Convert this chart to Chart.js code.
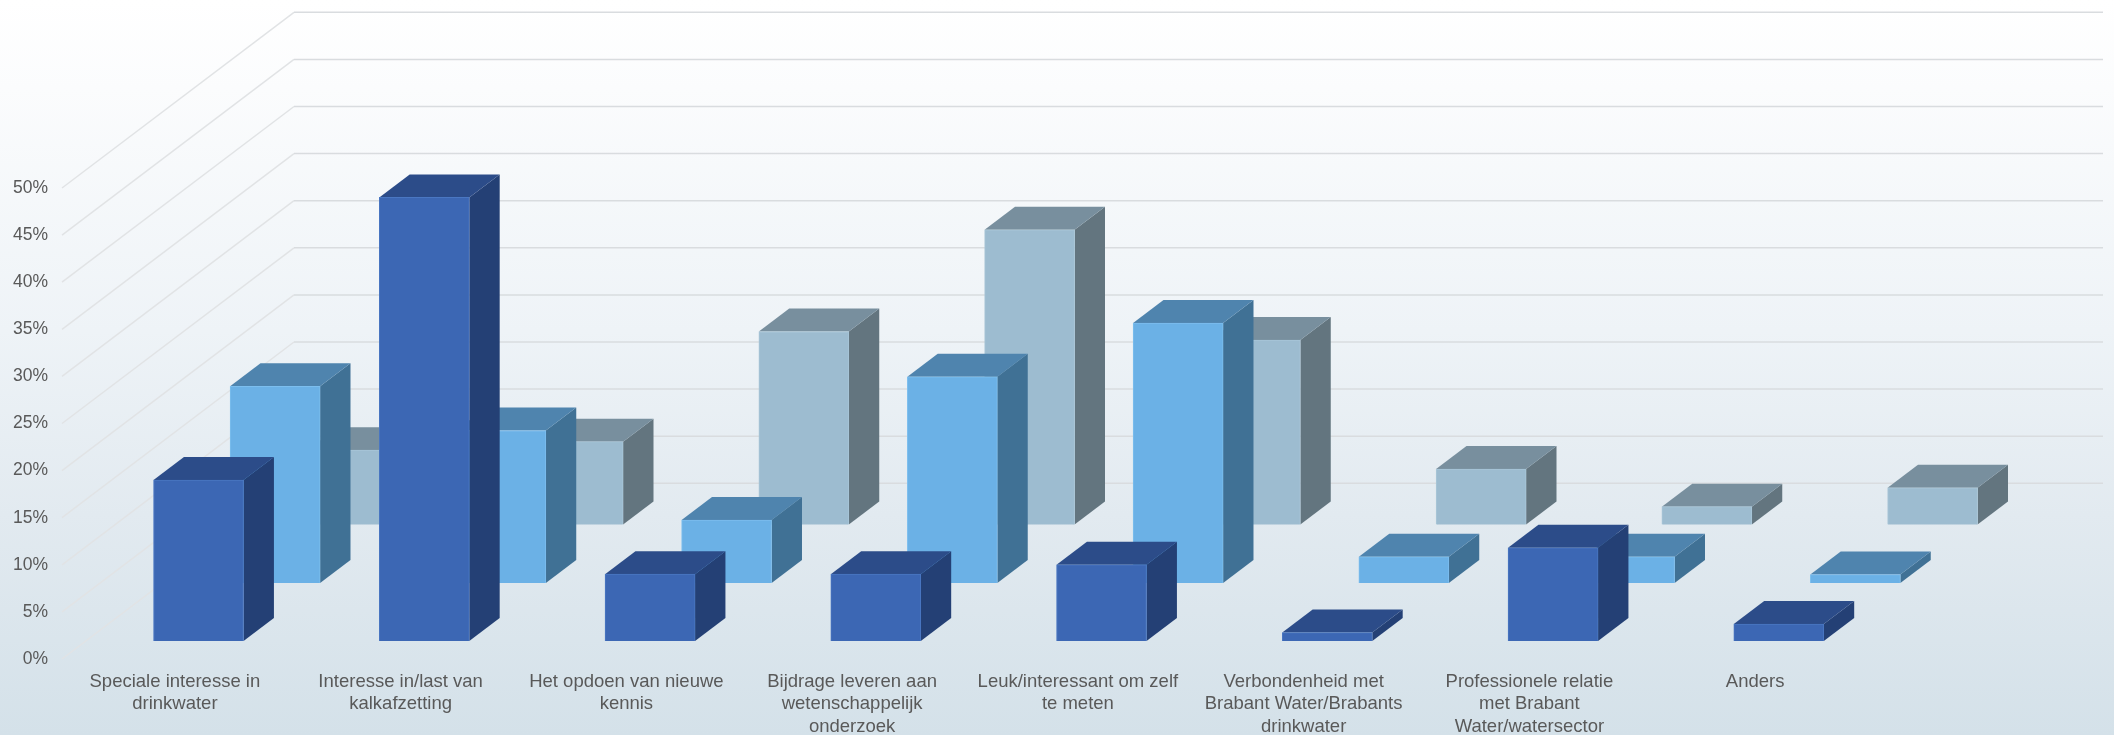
<!DOCTYPE html>
<html>
<head>
<meta charset="utf-8">
<title>Redenen voor deelname</title>
<script src="https://cdn.jsdelivr.net/npm/chart.js@4"></script>
<style>
	html, body { margin: 0; padding: 0; }
	body { width: 2114px; height: 735px; overflow: hidden; background: linear-gradient(#ffffff 0%, #fbfcfd 12%, #eef3f7 45%, #e2eaf0 70%, #d4e1e9 100%); }
	canvas { display: block; }
</style>
</head>
<body>
<canvas id="bar-3d" width="2114" height="735"></canvas>
<script>
const categories = [
	["Speciale interesse in", "drinkwater"],
	["Interesse in/last van", "kalkafzetting"],
	["Het opdoen van nieuwe", "kennis"],
	["Bijdrage leveren aan", "wetenschappelijk", "onderzoek"],
	["Leuk/interessant om zelf", "te meten"],
	["Verbondenheid met", "Brabant Water/Brabants", "drinkwater"],
	["Professionele relatie", "met Brabant", "Water/watersector"],
	["Anders"]
];
const frontValues = [17.1, 47.1, 7.1, 7.1, 8.1, 0.9, 9.9, 1.8];
const middleValues = [20.9, 16.2, 6.7, 21.9, 27.6, 2.8, 2.8, 0.9];
const backValues = [7.9, 8.8, 20.5, 31.3, 19.6, 5.9, 1.9, 3.9];

// the whole floor goes back this far, each row sits at a fraction of it
const floorX = 232, floorY = -175.7;
const rowDepth = [0.102, 0.432, 0.765];
const boxDepth = 0.131;

const faces = [
	{ front: "#3c67b4", edge: "#4a77c2", top: "#2c4c89", side: "#244075" },
	{ front: "#6bb1e6", edge: "#7cbeee", top: "#4f84ae", side: "#407195" },
	{ front: "#9dbcd0", edge: "#a9c6d8", top: "#788f9e", side: "#63757f" }
];

function poly(ctx, color, pts) {
	ctx.fillStyle = color;
	ctx.beginPath();
	pts.forEach((p, i) => i ? ctx.lineTo(p[0], p[1]) : ctx.moveTo(p[0], p[1]));
	ctx.closePath();
	ctx.fill();
}

const walls3d = {
	id: "walls3d",
	beforeDatasetsDraw(chart) {
		const ctx = chart.ctx, y = chart.scales.y, area = chart.chartArea;
		ctx.save();
		ctx.lineWidth = 1.5;
		y.ticks.forEach(t => {
			const py = y.getPixelForValue(t.value);
			ctx.strokeStyle = "#e1e3e5";
			ctx.beginPath();
			ctx.moveTo(area.left, py);
			ctx.lineTo(area.left + floorX, py + floorY);
			ctx.stroke();
			ctx.strokeStyle = "#d9dcdf";
			ctx.beginPath();
			ctx.moveTo(area.left + floorX, py + floorY);
			ctx.lineTo(area.right + floorX + 3, py + floorY);
			ctx.stroke();
		});
		ctx.restore();
	},
	// native bars give the front face, moved back to their row, the rest of the box is added around it
	beforeDatasetDraw(chart, args) {
		const ctx = chart.ctx, i = args.index;
		const dx = floorX * boxDepth, dy = floorY * boxDepth;
		ctx.save();
		ctx.translate(floorX * rowDepth[i], floorY * rowDepth[i]);
		args.meta.data.forEach(bar => {
			const l = bar.x - bar.width / 2, r = bar.x + bar.width / 2;
			poly(ctx, faces[i].side, [[r, bar.base], [r + dx, bar.base + dy], [r + dx, bar.y + dy], [r, bar.y]]);
			poly(ctx, faces[i].top, [[l, bar.y], [r, bar.y], [r + dx, bar.y + dy], [l + dx, bar.y + dy]]);
		});
	},
	afterDatasetDraw(chart) {
		chart.ctx.restore();
	}
};

function series(label, values, i) {
	return {
		label: label,
		data: values,
		backgroundColor: faces[i].front,
		borderColor: faces[i].edge,
		borderWidth: 1,
		barThickness: 90,
		clip: false
	};
}

new Chart(document.getElementById("bar-3d"), {
	type: "bar",
	data: {
		labels: categories,
		datasets: [
			series("Rij 1", frontValues, 0),
			series("Rij 2", middleValues, 1),
			series("Rij 3", backValues, 2)
		]
	},
	plugins: [walls3d],
	options: {
		responsive: false,
		animation: false,
		datasets: { bar: { grouped: false } },
		layout: { padding: { top: 188, right: 246, bottom: 0, left: 0 } },
		plugins: { legend: { display: false }, title: { display: false } },
		scales: {
			x: {
				grid: { display: false },
				border: { display: false },
				afterFit(scale) { scale.height = 76; },
				ticks: {
					autoSkip: false,
					maxRotation: 0,
					padding: 4,
					color: "#595959",
					font: { family: "Liberation Sans", size: 18.5, lineHeight: 1.2 }
				}
			},
			y: {
				min: 0,
				max: 50,
				grid: { display: false },
				border: { display: false },
				afterFit(scale) { scale.width = 62; },
				ticks: {
					stepSize: 5,
					padding: 6,
					color: "#595959",
					font: { family: "Liberation Sans", size: 17.5 },
					callback: v => v + "%"
				}
			}
		}
	}
});
</script>
</body>
</html>
